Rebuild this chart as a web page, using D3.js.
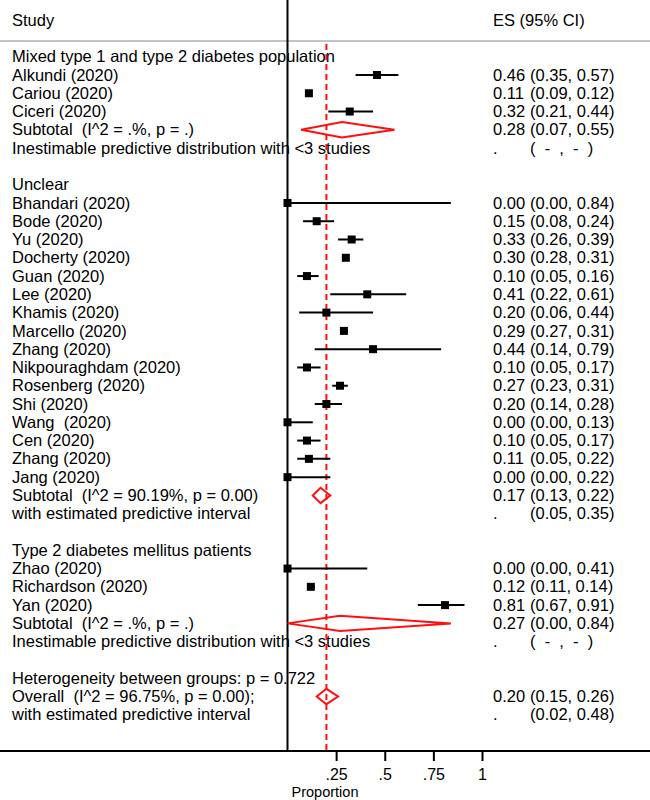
<!DOCTYPE html>
<html lang="en">
  <head>
    <meta charset="UTF-8" />
    <title>Forest plot</title>
    <style>
      body { margin: 0; background: #fff; }
      svg { display: block; font-family: "Liberation Sans", Helvetica, Arial, sans-serif; }
      text { white-space: pre; }
    </style>
  </head>
  <body>
    <script src="https://cdn.jsdelivr.net/npm/d3@7"></script>
    <script>
    // rows of the table, top to bottom
    var rowLabels = [
      "Mixed type 1 and type 2 diabetes population",
      "Alkundi (2020)", "Cariou (2020)", "Ciceri (2020)",
      "Subtotal  (I^2 = .%, p = .)",
      "Inestimable predictive distribution with <3 studies",
      "",
      "Unclear",
      "Bhandari (2020)", "Bode (2020)", "Yu (2020)", "Docherty (2020)", "Guan (2020)",
      "Lee (2020)", "Khamis (2020)", "Marcello (2020)", "Zhang (2020)",
      "Nikpouraghdam (2020)", "Rosenberg (2020)", "Shi (2020)", "Wang  (2020)",
      "Cen (2020)", "Zhang (2020)", "Jang (2020)",
      "Subtotal  (I^2 = 90.19%, p = 0.00)",
      "with estimated predictive interval",
      "",
      "Type 2 diabetes mellitus patients",
      "Zhao (2020)", "Richardson (2020)", "Yan (2020)",
      "Subtotal  (I^2 = .%, p = .)",
      "Inestimable predictive distribution with <3 studies",
      "",
      "Heterogeneity between groups: p = 0.722",
      "Overall  (I^2 = 96.75%, p = 0.00);",
      "with estimated predictive interval"
    ];
    var rowKinds = [
      "group", "study", "study", "study", "subtotal", "predictive", "blank",
      "group", "study", "study", "study", "study", "study", "study", "study", "study", "study",
      "study", "study", "study", "study", "study", "study", "study", "subtotal", "predictive", "blank",
      "group", "study", "study", "study", "subtotal", "predictive", "blank",
      "note", "subtotal", "predictive"
    ];
    var esValues = [
      null, 0.46, 0.11, 0.32, 0.28, null, null,
      null, 0.00, 0.15, 0.33, 0.30, 0.10, 0.41, 0.20, 0.29, 0.44,
      0.10, 0.27, 0.20, 0.00, 0.10, 0.11, 0.00, 0.17, null, null,
      null, 0.00, 0.12, 0.81, 0.27, null, null,
      null, 0.20, null
    ];
    var ciLow = [
      null, 0.35, 0.09, 0.21, 0.07, null, null,
      null, 0.00, 0.08, 0.26, 0.28, 0.05, 0.22, 0.06, 0.27, 0.14,
      0.05, 0.23, 0.14, 0.00, 0.05, 0.05, 0.00, 0.13, 0.05, null,
      null, 0.00, 0.11, 0.67, 0.00, null, null,
      null, 0.15, 0.02
    ];
    var ciHigh = [
      null, 0.57, 0.12, 0.44, 0.55, null, null,
      null, 0.84, 0.24, 0.39, 0.31, 0.16, 0.61, 0.44, 0.31, 0.79,
      0.17, 0.31, 0.28, 0.13, 0.17, 0.22, 0.22, 0.22, 0.35, null,
      null, 0.41, 0.14, 0.91, 0.84, null, null,
      null, 0.26, 0.48
    ];
    var xTicks = [0.25, 0.5, 0.75, 1];
    var overallES = 0.20;

    var width = 650, height = 800;
    var fs = 16.5;
    var firstRow = 56.7, rowStep = 18.28;
    var axisY = 751;

    var x = d3.scaleLinear().domain([0, 1]).range([287.5, 482]);
    var y = function(i) { return firstRow + i * rowStep; };
    var f2 = d3.format(".2f");

    var svg = d3.select("body").append("svg")
      .attr("width", width)
      .attr("height", height);

    // header
    svg.append("text").attr("x", 12).attr("y", 20.5 + fs * 0.34)
      .style("font-size", fs + "px").text("Study");
    svg.append("text").attr("x", 493).attr("y", 20.5 + fs * 0.34)
      .style("font-size", fs + "px").text("ES (95% CI)");
    svg.append("line")
      .attr("x1", 0).attr("x2", width).attr("y1", 41).attr("y2", 41)
      .attr("stroke", "#c4c4c4").attr("stroke-width", 2);

    var rows = rowLabels.map(function(label, i) {
      return { i: i, label: label, kind: rowKinds[i], es: esValues[i], lo: ciLow[i], hi: ciHigh[i] };
    });

    // left column
    svg.selectAll(".lab")
      .data(rows)
      .enter()
      .append("text")
      .attr("class", "lab")
      .attr("x", 12)
      .attr("y", function(d) { return y(d.i) + fs * 0.34; })
      .style("font-size", fs + "px")
      .text(function(d) { return d.label; });

    // ES column
    var numRows = rows.filter(function(d) { return d.kind == "study" || d.kind == "subtotal" || d.kind == "predictive"; });
    svg.selectAll(".es")
      .data(numRows)
      .enter()
      .append("text")
      .attr("class", "es")
      .attr("x", 493)
      .attr("y", function(d) { return y(d.i) + fs * 0.34; })
      .style("font-size", fs + "px")
      .text(function(d) { return d.es == null ? "." : f2(d.es); });
    svg.selectAll(".ci")
      .data(numRows)
      .enter()
      .append("text")
      .attr("class", "ci")
      .attr("x", 530)
      .attr("y", function(d) { return y(d.i) + fs * 0.34; })
      .style("font-size", fs + "px")
      .text(function(d) {
        if (d.lo == null) return "(  -  ,  -  )";
        return "(" + f2(d.lo) + ", " + f2(d.hi) + ")";
      });

    // bottom rule + axis
    svg.append("line")
      .attr("x1", 0).attr("x2", width).attr("y1", axisY).attr("y2", axisY)
      .attr("stroke", "#000").attr("stroke-width", 2);

    var xAxis = d3.axisBottom(x)
      .tickValues(xTicks)
      .tickSize(10)
      .tickPadding(8)
      .tickFormat(function(d) { return String(d).replace(/^0/, ""); });
    var gx = svg.append("g")
      .attr("transform", "translate(0," + axisY + ")")
      .call(xAxis);
    gx.select(".domain").remove();
    gx.selectAll(".tick line").attr("stroke", "#000").attr("stroke-width", 2);
    gx.selectAll(".tick text")
      .attr("fill", "#000")
      .style("font-size", "16px")
      .style("font-family", "'Liberation Sans', Helvetica, Arial, sans-serif");

    svg.append("text")
      .attr("x", 325).attr("y", 797)
      .attr("text-anchor", "middle")
      .style("font-size", "14.5px")
      .text("Proportion");

    // no-effect line and overall line
    svg.append("line")
      .attr("x1", x(0)).attr("x2", x(0)).attr("y1", 0).attr("y2", axisY)
      .attr("stroke", "#000").attr("stroke-width", 2);
    svg.append("line")
      .attr("x1", x(overallES)).attr("x2", x(overallES)).attr("y1", 44).attr("y2", axisY)
      .attr("stroke", "#ff1010").attr("stroke-width", 2)
      .attr("stroke-dasharray", "6,4");

    // studies: whiskers and boxes
    var studies = rows.filter(function(d) { return d.kind == "study"; });
    svg.selectAll(".whisker")
      .data(studies)
      .enter()
      .append("line")
      .attr("class", "whisker")
      .attr("x1", function(d) { return x(d.lo); })
      .attr("x2", function(d) { return x(d.hi); })
      .attr("y1", function(d) { return y(d.i); })
      .attr("y2", function(d) { return y(d.i); })
      .attr("stroke", "#000").attr("stroke-width", 2);
    var box = 8;
    svg.selectAll(".box")
      .data(studies)
      .enter()
      .append("rect")
      .attr("class", "box")
      .attr("x", function(d) { return x(d.es) - box / 2; })
      .attr("y", function(d) { return y(d.i) - box / 2; })
      .attr("width", box)
      .attr("height", box)
      .attr("fill", "#000");

    // pooled diamonds
    var pooled = rows.filter(function(d) { return d.kind == "subtotal"; });
    var dh = 7.7;
    svg.selectAll(".diamond")
      .data(pooled)
      .enter()
      .append("path")
      .attr("class", "diamond")
      .attr("d", function(d) {
        var cy = y(d.i);
        return "M" + x(d.lo) + "," + cy +
               "L" + x(d.es) + "," + (cy - dh) +
               "L" + x(d.hi) + "," + cy +
               "L" + x(d.es) + "," + (cy + dh) + "Z";
      })
      .attr("fill", "none")
      .attr("stroke", "#ff1010")
      .attr("stroke-width", 2);
    </script>
  </body>
</html>
